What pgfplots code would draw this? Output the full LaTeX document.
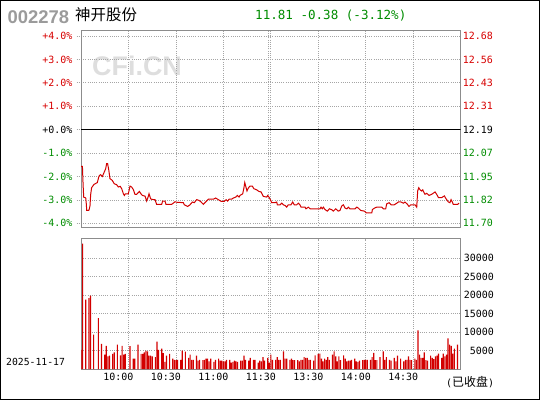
\documentclass[border=0pt]{standalone}
\usepackage{pgfplots}
\pgfplotsset{compat=1.18}
\usepackage{pgfplotstable}
\usepackage{fontspec}
\newfontfamily\monofont{DejaVu Sans Mono}
\newfontfamily\cjk{Noto Sans CJK SC}
\newfontfamily\titlefont{Liberation Sans}
\definecolor{cred}{RGB}{210,0,0}
\definecolor{lred}{RGB}{215,0,0}
\definecolor{cgreen}{RGB}{0,140,0}
\definecolor{framegray}{RGB}{140,140,140}
\definecolor{gridgray}{RGB}{165,165,165}
\definecolor{titlegray}{RGB}{155,155,155}
\definecolor{markgray}{RGB}{222,222,222}

% minute after 9:30 (lunch break removed), change vs. previous close 12.19 (%)
\pgfplotstableread{
min pct
0 -1.57
0.9 -1.57
1.3 -2.31
1.7 -2.88
3.0 -2.92
3.4 -3.21
3.6 -3.45
4.9 -3.45
5.3 -3.38
5.7 -3.24
6.1 -2.78
6.7 -2.48
8.2 -2.34
10.3 -2.26
11.4 -1.98
12.4 -1.92
13.5 -2.00
14.7 -1.81
15.6 -1.67
16.2 -1.45
16.8 -1.45
17.5 -1.70
18.3 -2.09
19.8 -2.17
21.0 -2.31
22.5 -2.35
23.6 -2.45
24.8 -2.42
25.7 -2.52
26.8 -2.74
27.4 -2.81
28.0 -2.74
29.9 -2.74
31.0 -2.41
32.0 -2.45
33.1 -2.56
34.1 -2.76
35.2 -2.76
36.2 -2.69
36.9 -2.64
37.9 -2.74
38.8 -2.81
40.5 -2.84
41.5 -3.05
42.4 -2.88
43.0 -2.74
44.0 -2.95
44.8 -2.98
46.8 -2.99
47.8 -3.19
51.0 -3.19
51.6 -3.05
53.1 -3.05
53.7 -3.19
57.3 -3.19
58.3 -3.14
59.4 -3.08
60.5 -3.10
64.7 -3.12
65.3 -3.21
67.4 -3.28
68.9 -3.21
70.4 -3.09
71.6 -3.12
73.1 -2.99
74.6 -3.02
75.9 -3.09
77.3 -3.19
78.8 -3.09
80.5 -2.97
83.6 -2.97
85.1 -2.92
86.8 -2.99
88.5 -3.06
90.6 -3.06
91.7 -2.99
92.7 -3.05
93.6 -2.97
95.2 -2.97
96.3 -2.92
97.8 -2.88
98.8 -2.81
99.9 -2.88
100.5 -2.81
102.2 -2.74
103.0 -2.48
103.5 -2.26
104.1 -2.41
104.9 -2.62
105.8 -2.49
106.8 -2.41
108.3 -2.41
109.2 -2.52
111.0 -2.57
112.5 -2.64
113.8 -2.66
115.2 -2.85
117.4 -2.88
118.0 -2.81
119.0 -2.90
120.1 -3.05
120.5 -3.12
122.6 -3.12
123.7 -3.09
124.1 -3.21
125.8 -3.21
126.9 -3.14
127.9 -3.21
129.0 -3.24
130.0 -3.31
131.0 -3.21
132.7 -3.21
133.8 -3.09
134.8 -3.21
136.3 -3.21
137.4 -3.14
138.4 -3.21
139.1 -3.31
141.6 -3.31
142.2 -3.38
143.7 -3.31
144.8 -3.38
151.1 -3.38
151.7 -3.31
152.5 -3.38
153.2 -3.31
154.2 -3.41
155.7 -3.48
157.0 -3.38
158.5 -3.42
159.5 -3.48
161.0 -3.38
162.6 -3.48
163.7 -3.45
164.8 -3.26
165.8 -3.21
166.9 -3.35
168.0 -3.38
169.0 -3.31
170.0 -3.38
173.2 -3.38
174.3 -3.31
175.3 -3.35
176.8 -3.45
179.1 -3.48
180.2 -3.55
183.8 -3.55
184.2 -3.41
185.8 -3.34
186.9 -3.31
190.1 -3.31
191.1 -3.38
192.6 -3.38
193.2 -3.17
194.7 -3.12
196.0 -3.21
198.0 -3.21
199.6 -3.14
200.6 -3.09
202.3 -3.09
203.8 -3.14
204.8 -3.09
206.3 -3.19
207.3 -3.28
208.4 -3.21
211.1 -3.21
212.2 -3.31
212.8 -2.62
213.5 -2.48
214.3 -2.57
215.3 -2.62
216.0 -2.57
216.8 -2.69
217.4 -2.76
218.5 -2.72
220.0 -2.81
221.7 -2.76
223.8 -2.66
224.8 -2.76
225.9 -2.90
228.0 -2.90
229.7 -2.83
230.7 -2.95
232.2 -3.09
233.2 -3.12
233.9 -2.99
234.7 -3.09
235.3 -3.19
238.1 -3.19
238.9 -3.14
}\pricetable

\pgfplotstableread{
min vol
0 5200
1 34000
3 18800
5 19200
6 19900
8 9300
11 13800
13 6800
15 3900
16 6300
17 3400
18 3600
20 4100
21 4500
23 6600
25 3700
26 6300
27 3900
28 4100
31 6200
33 2800
34 2800
36 6600
38 4100
39 4100
40 4500
41 5000
42 4800
43 3600
44 3600
45 3400
47 3200
48 7400
49 5200
51 5500
52 4300
53 1900
54 3600
56 4100
58 2800
59 2500
60 2400
61 2500
63 2500
64 5000
66 4700
68 3000
69 3900
70 2500
71 2500
73 3600
74 2300
75 2500
77 2400
78 2500
79 2800
80 2800
81 2100
82 2800
84 1900
85 2500
87 2800
88 2300
89 2300
90 2100
91 2100
92 2500
94 2500
95 1700
96 1900
97 2300
98 2100
99 1900
101 2300
102 2300
103 3600
104 2500
106 2300
107 3000
109 2500
110 2500
112 1700
113 2300
114 2100
115 3200
116 2300
118 3000
119 1700
120 3900
121 2500
123 2500
124 3200
125 2500
126 2500
128 4800
129 2800
130 2800
132 2500
133 2800
134 2400
135 2400
137 2400
138 2100
139 2500
140 2500
141 3200
142 3000
143 3000
144 2500
145 2500
147 2300
148 3700
150 4100
151 4200
152 2800
153 2100
154 2800
155 2500
156 3200
157 2500
159 3900
160 4800
161 3400
162 2100
163 3400
164 2400
166 3700
167 2800
168 2100
169 2300
170 2300
171 2500
173 2800
174 2100
175 1900
176 2300
178 2400
179 2500
180 2500
181 2500
183 2500
184 3200
185 4400
186 2400
187 2400
189 3200
191 4800
192 2500
193 3200
195 2500
196 2300
198 3000
199 2100
200 3600
202 2800
204 2100
205 2500
206 2500
207 3400
208 2500
209 2400
211 2800
212 2500
213 10500
214 3900
215 3000
216 3000
217 4500
218 2400
219 2300
221 3600
222 3000
223 2700
224 3400
225 3600
226 4200
228 3000
229 4200
230 3400
231 3900
232 8300
233 6600
234 6300
235 4200
236 5500
238 6600
}\voltable

\pgfplotsset{
  cnframe/.style={
    scale only axis, anchor=south west, width=379.7bp,
    xmin=0, xmax=240,
    axis line style={framegray, line width=1bp},
    grid style={gridgray, line width=0.75bp, dash pattern=on 1bp off 1.2bp},
    /pgf/number format/assume math mode=true,
    tick label style={font=\monofont\fontsize{10}{10}\selectfont, inner sep=0pt},
  }
}

\begin{document}
\begin{tikzpicture}[x=1bp,y=1bp]
\useasboundingbox (0,0) rectangle (540,400);
\draw[black, line width=1bp] (0.5,0.5) rectangle (539.5,399.5);

% watermark, drawn first so the grid and line lie over it
\node[anchor=base west, inner sep=0pt, text=markgray, font=\titlefont\bfseries\fontsize{27}{27}\selectfont] at (92bp,324.5bp) {CFi.CN};

% price panel (percent axis on the left)
\begin{axis}[cnframe,
  at={(81bp,172.3bp)}, height=197bp,
  ymin=-4.188, ymax=4.227,
  xtick={30,60,90,120,150,180,210}, xticklabels={},
  extra x ticks={118.6}, extra x tick labels={},
  xmajorgrids, ymajorgrids,
  ytick={-4,-3,-2,-1,0,1,2,3,4},
  yticklabels={\textcolor{cgreen}{-4.0\%},\textcolor{cgreen}{-3.0\%},\textcolor{cgreen}{-2.0\%},\textcolor{cgreen}{-1.0\%},\textcolor{black}{+0.0\%},\textcolor{lred}{+1.0\%},\textcolor{lred}{+2.0\%},\textcolor{lred}{+3.0\%},\textcolor{lred}{+4.0\%}},
  ytick pos=left, tick align=outside, major tick length=4.5bp,
  xtick style={draw=none},
  ytick style={gridgray, line width=0.75bp, dash pattern=on 1bp off 1.2bp},
  yticklabel style={anchor=east, xshift=-4bp},
]
\addplot[black, line width=1bp] coordinates {(0,0) (240,0)};
\addplot[cred, line width=1bp] table[x=min, y=pct] {\pricetable};
\end{axis}

% price labels on the right
\begin{axis}[cnframe,
  at={(81bp,172.3bp)}, height=197bp,
  ymin=-4.188, ymax=4.227,
  hide x axis, axis y line*=right, y axis line style={draw=none},
  ytick={-4,-3,-2,-1,0,1,2,3,4},
  yticklabels={\textcolor{cgreen}{11.70},\textcolor{cgreen}{11.82},\textcolor{cgreen}{11.95},\textcolor{cgreen}{12.07},\textcolor{black}{12.19},\textcolor{lred}{12.31},\textcolor{lred}{12.43},\textcolor{lred}{12.56},\textcolor{lred}{12.68}},
  tick style={draw=none}, major tick length=0pt,
  yticklabel style={anchor=west, xshift=2bp},
]
\end{axis}

% volume panel
\begin{axis}[cnframe,
  at={(81bp,31bp)}, height=130.5bp,
  ymin=0, ymax=35366,
  xtick={30,60,90,120,150,180,210},
  xticklabels={10:00,10:30,11:00,11:30,13:30,14:00,14:30},
  extra x ticks={118.6}, extra x tick labels={},
  ytick={5000,10000,15000,20000,25000,30000},
  yticklabels={5000,10000,15000,20000,25000,30000},
  scaled y ticks=false,
  yticklabel pos=right,
  xmajorgrids, ymajorgrids,
  tick style={draw=none}, major tick length=0pt,
  xticklabel style={anchor=north, yshift=-4bp, xshift=-10bp},
  yticklabel style={anchor=east, xshift=33.3bp},
]
\addplot[ybar, bar width=1.15bp, fill=cred, draw=none] table[x=min, y=vol] {\voltable};
\end{axis}

\node[anchor=base west, inner sep=0pt, text=titlegray, font=\titlefont\bfseries\fontsize{18.5}{18.5}\selectfont] at (7.5bp,376.7bp) {002278};
\node[anchor=base west, inner sep=0pt, font=\cjk\fontsize{15.5}{15.5}\selectfont] at (75bp,379.5bp) {神开股份};
\node[anchor=base west, inner sep=0pt, text=cgreen, font=\monofont\fontsize{12.6}{12.6}\selectfont] at (255bp,380bp) {11.81 -0.38 (-3.12\%)};
\node[anchor=base west, inner sep=0pt, font=\monofont\fontsize{9.8}{9.8}\selectfont] at (6bp,34.3bp) {2025-11-17};
\node[anchor=base west, inner sep=0pt] at (446bp,13.5bp) {\monofont\fontsize{10}{10}\selectfont(\cjk\fontsize{12}{12}\selectfont 已收盘\monofont\fontsize{10}{10}\selectfont)};
\end{tikzpicture}
\end{document}
